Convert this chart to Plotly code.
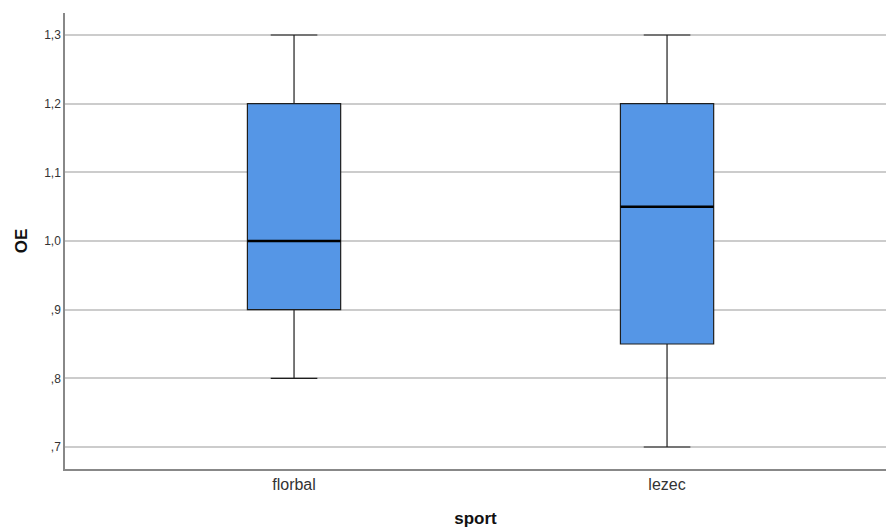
import plotly.graph_objects as go

# Five-number summaries of OE per sport
sports = ["florbal", "lezec"]
oe_min = [0.8, 0.7]
oe_q1 = [0.9, 0.85]
oe_median = [1.0, 1.05]
oe_q3 = [1.2, 1.2]
oe_max = [1.3, 1.3]

y_ticks = [0.7, 0.8, 0.9, 1.0, 1.1, 1.2, 1.3]
y_tick_labels = [",7", ",8", ",9", "1,0", "1,1", "1,2", "1,3"]

positions = list(range(len(sports)))
box_width = 0.25

fig = go.Figure()

fig.add_trace(go.Box(
    x=positions,
    q1=oe_q1,
    median=oe_median,
    q3=oe_q3,
    lowerfence=oe_min,
    upperfence=oe_max,
    width=box_width,
    whiskerwidth=0.5,
    fillcolor="#5596E6",
    line=dict(color="#1e1e1e", width=1.2),
    boxpoints=False,
    hoverinfo="skip",
    showlegend=False,
))

# Heavier median bars drawn over each box
for p, m in zip(positions, oe_median):
    fig.add_trace(go.Scatter(
        x=[p - box_width / 2, p + box_width / 2],
        y=[m, m],
        mode="lines",
        line=dict(color="black", width=2.5),
        hoverinfo="skip",
        showlegend=False,
    ))

fig.update_layout(
    width=886,
    height=528,
    margin=dict(l=65, r=0, t=13, b=59),
    paper_bgcolor="white",
    plot_bgcolor="white",
    font=dict(family="Liberation Sans, Arial, sans-serif", color="#222"),
    xaxis=dict(
        range=[-0.614, 1.587],
        tickvals=positions,
        ticktext=sports,
        showgrid=False,
        zeroline=False,
        showline=True,
        linecolor="#888",
        linewidth=1.5,
        ticks="",
        tickfont=dict(size=16, color="#333"),
        title=dict(text="<b>sport</b>", font=dict(size=17, color="#111"), standoff=23),
    ),
    yaxis=dict(
        range=[0.668, 1.332],
        tickvals=y_ticks,
        ticktext=y_tick_labels,
        showgrid=True,
        gridcolor="#cccccc",
        gridwidth=1.5,
        zeroline=False,
        showline=True,
        linecolor="#888",
        linewidth=1.5,
        ticks="",
        tickfont=dict(size=12, color="#333"),
        title=dict(text="<b>OE</b>", font=dict(size=17, color="#111"), standoff=12),
    ),
)

fig.write_html("out.html")
